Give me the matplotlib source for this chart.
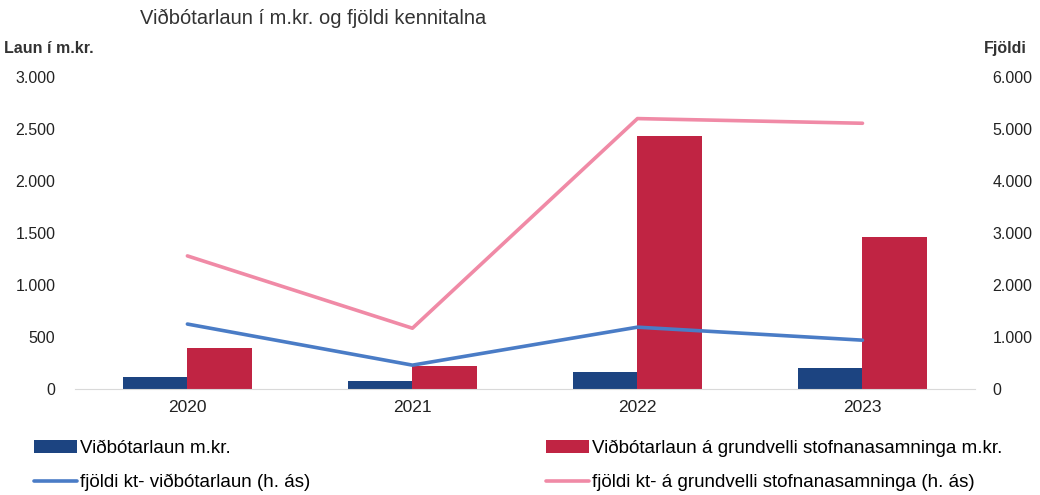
import matplotlib.pyplot as plt
import numpy as np

plt.rcParams['font.family'] = ['Liberation Sans', 'DejaVu Sans']

years = ['2020', '2021', '2022', '2023']
vidbotarlaun = [120, 80, 160, 200]
stofnanasamn = [390, 220, 2430, 1460]
fjoldi_vidbot = [1250, 460, 1190, 940]
fjoldi_stofn = [2560, 1170, 5200, 5110]

blue_bar = '#1c4481'
red_bar = '#c02443'
blue_line = '#4a7cc6'
pink_line = '#f08aa6'

fig = plt.figure(figsize=(10.4, 4.95), dpi=100)
ax = fig.add_axes([0.072, 0.214, 0.8655, 0.6305])
ax2 = ax.twinx()

x = np.arange(len(years))
w = 0.285
b1 = ax.bar(x - w / 2, vidbotarlaun, w, color=blue_bar, label='Viðbótarlaun m.kr.')
b2 = ax.bar(x + w / 2, stofnanasamn, w, color=red_bar,
            label='Viðbótarlaun á grundvelli stofnanasamninga m.kr.')
l1, = ax2.plot(x, fjoldi_vidbot, color=blue_line, lw=2.6, solid_capstyle='round',
               label='fjöldi kt- viðbótarlaun (h. ás)')
l2, = ax2.plot(x, fjoldi_stofn, color=pink_line, lw=2.6, solid_capstyle='round',
               label='fjöldi kt- á grundvelli stofnanasamninga (h. ás)')

ax.set_xlim(-0.5, 3.5)
ax.set_ylim(0, 3000)
ax2.set_ylim(0, 6000)
ax.set_yticks(range(0, 3001, 500))
ax2.set_yticks(range(0, 6001, 1000))
fmt = lambda v, p: f'{int(v):,}'.replace(',', '.')
ax.yaxis.set_major_formatter(plt.FuncFormatter(fmt))
ax2.yaxis.set_major_formatter(plt.FuncFormatter(fmt))
ax.set_xticks(x)
ax.set_xticklabels(years)

for a in (ax, ax2):
    for s in a.spines.values():
        s.set_visible(False)
    a.tick_params(length=0, labelsize=11.5, colors='#222222')
ax.spines['bottom'].set_visible(True)
ax.spines['bottom'].set_color('#d9d9d9')
ax.tick_params(axis='y', pad=14)
ax2.tick_params(axis='y', pad=12.5)
ax.tick_params(axis='x', labelsize=12.5, pad=8)

fig.text(0.135, 0.963, 'Viðbótarlaun í m.kr. og fjöldi kennitalna', fontsize=14.5,
         color='#333333', va='center')
fig.text(0.004, 0.902, 'Laun í m.kr.', fontsize=11.5, fontweight='bold',
         color='#333333', va='center')
fig.text(0.946, 0.902, 'Fjöldi', fontsize=11.5, fontweight='bold',
         color='#333333', va='center')

leg_kw = dict(frameon=False, fontsize=13.5, handlelength=2.3, handletextpad=0.15,
              labelspacing=0.9, loc='center left')
fig.legend([b1, l1], [b1.get_label(), l1.get_label()],
           bbox_to_anchor=(0.0165, 0.059), **leg_kw)
fig.legend([b2, l2], [b2.get_label(), l2.get_label()],
           bbox_to_anchor=(0.509, 0.059), **leg_kw)

fig.savefig('out.png', dpi=100)
